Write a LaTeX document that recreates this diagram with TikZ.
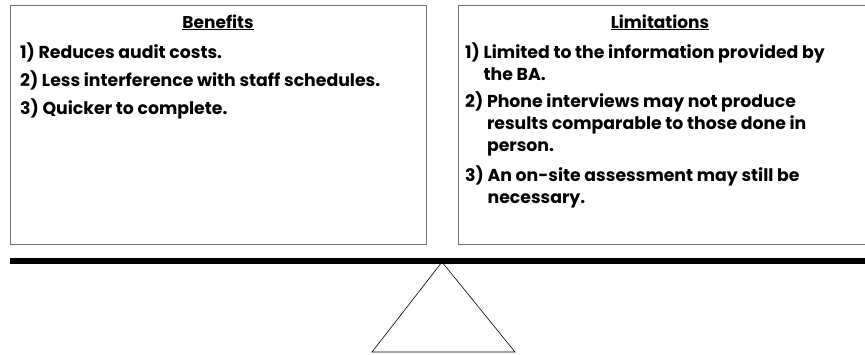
\documentclass[tikz,border=0pt]{standalone}
\usepackage{fontspec}
\setmainfont{Poppins}
\usetikzlibrary{positioning}

\newcommand{\Point}[2]{#1\ \parbox[t]{400pt}{#2}}

\begin{document}
\begin{tikzpicture}[x=1pt,y=-1pt]
            % Styles
            \tikzstyle{cadre}=[draw=black!55,line width=1.2pt,rectangle,anchor=north west,minimum height=239pt,inner sep=0pt]
            \tikzstyle{titre}=[anchor=base,inner sep=0pt,font=\bfseries\fontsize{17}{22}\selectfont]
            \tikzstyle{point}=[anchor=base west,inner sep=0pt,font=\bfseries\fontsize{17.3}{22}\selectfont]
            \tikzstyle{fleau}=[line width=6pt,black]
            \tikzstyle{socle}=[line width=0.6pt,black]
            % Dimensions
            \def\HautCadre{5}
            \def\LigneFleau{261}
            \def\GaucheA{20}
            \def\GaucheL{465}
            % Cadres
            \useasboundingbox (0,0) rectangle (865,354);
            \node[cadre,minimum width=416pt] (avantages) at (10,\HautCadre) {};
            \node[cadre,minimum width=420pt] (limites) at (458,\HautCadre) {};
            % Titres
            \node[titre] (titreA) at (218,28) {\underline{Benefits}};
            \node[titre] (titreL) at (660,28) {\underline{Limitations}};
            % Points (avantages)
            \node[point] (Aa) at (\GaucheA,58) {\Point{1)}{Reduces audit costs.}};
            \node[point] (Ab) at (\GaucheA,86) {\Point{2)}{Less interference with staff schedules.}};
            \node[point] (Ac) at (\GaucheA,114) {\Point{3)}{Quicker to complete.}};
            % Points (limites)
            \node[point] (La) at (\GaucheL,58) {\Point{1)}{Limited to the information provided by\\the BA.}};
            \node[point] (Lb) at (\GaucheL,107) {\Point{2)}{Phone interviews may not produce\\results comparable to those done in\\person.}};
            \node[point] (Lc) at (\GaucheL,181) {\Point{3)}{An on-site assessment may still be\\necessary.}};
            % Fleau et socle
            \coordinate (fleauG) at (10,\LigneFleau);
            \coordinate (fleauD) at (870,\LigneFleau);
            \coordinate (sommet) at (442,262);
            \coordinate (baseG) at (372,352);
            \coordinate (baseD) at (515,352);
            \draw[fleau] (fleauG) -- (fleauD);
            \draw[socle] (sommet) -- (baseG) -- (baseD) -- cycle;
        \end{tikzpicture}
\end{document}
